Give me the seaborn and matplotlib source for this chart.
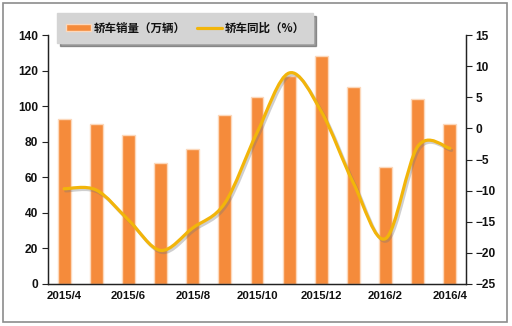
import matplotlib
matplotlib.use("Agg")
import matplotlib.pyplot as plt
import matplotlib.patheffects as pe
from matplotlib.path import Path
from matplotlib.patches import PathPatch, Rectangle, Patch
from matplotlib.lines import Line2D
import numpy as np
import pandas as pd
import seaborn as sns

months = ["2015/4", "2015/5", "2015/6", "2015/7", "2015/8", "2015/9", "2015/10",
          "2015/11", "2015/12", "2016/1", "2016/2", "2016/3", "2016/4"]
sales = [93, 90, 84, 68, 76, 95, 105, 117, 128, 111, 66, 104, 90]
yoy = [-9.7, -9.9, -14.7, -19.6, -16.0, -12.0, -0.7, 8.9, 2.7, -8.8, -17.7, -2.9, -3.2]
tick_labels = ["2015/4", "2015/6", "2015/8", "2015/10", "2015/12", "2016/2", "2016/4"]

sns.set_theme(style="white")
plt.rcParams["font.family"] = ["Liberation Sans", "Noto Sans CJK SC", "DejaVu Sans"]

BAR = "#f58b3b"
BAR_EDGE = "#fcd8bb"
LINE = "#f2b50a"

fig = plt.figure(figsize=(5.12, 3.26), dpi=100)
fig.patch.set_facecolor("white")
fig.patches.append(Rectangle((3 / 512, 4 / 326), 504 / 512, 319 / 326, transform=fig.transFigure,
                             fill=False, edgecolor="#8c8c8c", linewidth=1.2))

ax = fig.add_axes([48 / 512, 1 - 284 / 326, 418 / 512, 249 / 326])
df = pd.DataFrame({"month": months, "sales": sales})
sns.barplot(data=df, x="month", y="sales", ax=ax, color=BAR, width=0.4,
            edgecolor=BAR_EDGE, linewidth=1.0, saturation=1)
ax.set_xlim(-0.5, len(months) - 0.5)
ax.set_ylim(0, 140)
ax.set_yticks(np.arange(0, 141, 20))
ax.set_xlabel("")
ax.set_ylabel("")

pos = np.arange(len(months))
ax.set_xticks(pos[::2])
ax.set_xticklabels(tick_labels)
ax.set_xticks(np.arange(-0.5, len(months), 1.0), minor=True)
ax.tick_params(axis="x", which="major", length=0, pad=5)
ax.tick_params(axis="x", which="minor", length=5, width=0.8, direction="inout", color="#222222")
ax.tick_params(axis="y", length=4, width=0.8, direction="out", color="#222222", pad=3, left=True)

ax2 = ax.twinx()
ax2.set_ylim(-25, 15)
ax2.set_yticks(np.arange(-25, 16, 5))
ax2.tick_params(axis="y", length=4, width=0.8, direction="out", color="#222222", pad=3, right=True)
ax2.grid(False)
ax.grid(False)

for a in (ax, ax2):
    a.spines["top"].set_visible(False)
    for side in ("left", "right", "bottom"):
        a.spines[side].set_color("#222222")
        a.spines[side].set_linewidth(0.9)
    for lab in a.get_yticklabels():
        lab.set_fontsize(8.6)
        lab.set_fontweight("bold")
        lab.set_color("#111111")
    for lab in a.get_xticklabels():
        lab.set_fontsize(8.2)
        lab.set_fontweight("bold")
        lab.set_color("#111111")

# Smoothed year-on-year curve (Catmull-Rom as cubic Bezier segments)
pts = np.column_stack([pos, yoy]).astype(float)
ext = np.vstack([pts[0], pts, pts[-1]])
verts = [tuple(pts[0])]
codes = [Path.MOVETO]
for i in range(1, len(ext) - 2):
    p0, p1, p2, p3 = ext[i - 1], ext[i], ext[i + 1], ext[i + 2]
    c1 = p1 + (p2 - p0) / 6.0
    c2 = p2 - (p3 - p1) / 6.0
    verts += [tuple(c1), tuple(c2), tuple(p2)]
    codes += [Path.CURVE4] * 3
curve = PathPatch(Path(verts, codes), fill=False, edgecolor=LINE, linewidth=2.3,
                  capstyle="round", joinstyle="round", zorder=5,
                  path_effects=[pe.SimpleLineShadow(offset=(1.2, -1.5), shadow_color="#777777", alpha=0.35),
                                pe.Normal()])
ax2.add_patch(curve)

handles = [Patch(facecolor=BAR, edgecolor=BAR_EDGE, linewidth=1.0),
           Line2D([0], [0], color=LINE, linewidth=2.3)]
leg = fig.legend(handles, ["轿车销量（万辆）", "轿车同比（%）"], ncol=2,
                 loc="upper left", bbox_to_anchor=(57 / 512, 1 - 13 / 326), borderaxespad=0,
                 frameon=True, fancybox=False, shadow=True, facecolor="#d4d4d4",
                 edgecolor="#d4d4d4", framealpha=1, handlelength=2.2, handleheight=0.6,
                 columnspacing=1.0, handletextpad=0.2, borderpad=0.75,
                 prop={"family": ["Noto Sans CJK SC", "DejaVu Sans"], "size": 8.3, "weight": "bold"})
for t in leg.get_texts():
    t.set_color("#111111")

fig.savefig("out.png", dpi=100)
